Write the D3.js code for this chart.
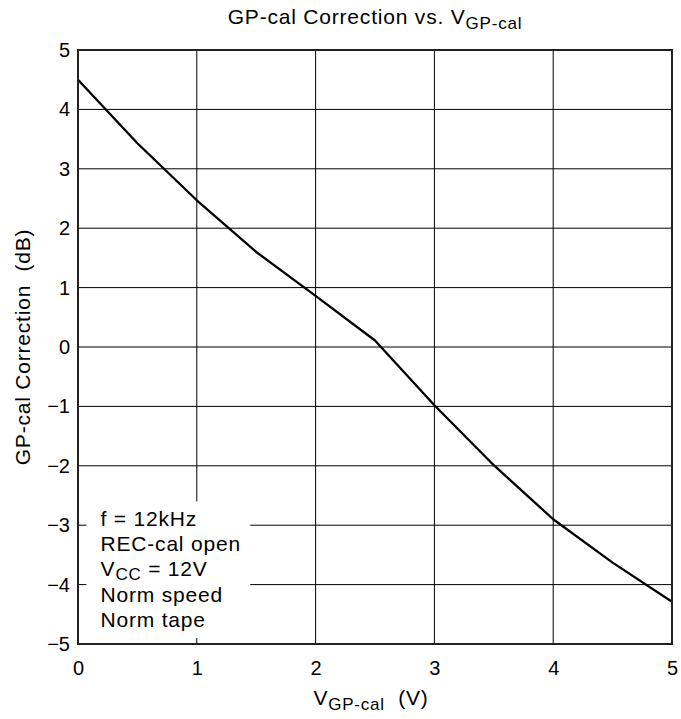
<!DOCTYPE html>
<html>
<head>
<meta charset="utf-8">
<script src="https://cdn.jsdelivr.net/npm/d3@7"></script>
<style>
  html, body { margin: 0; padding: 0; background: #fff; }
  svg { display: block; font-family: "Liberation Sans", Arial, Helvetica, sans-serif; }
</style>
</head>
<body>
<svg id="chart" width="681" height="719"></svg>
<script>
// Data
const vgpcal = [0, 0.5, 1, 1.5, 2, 2.5, 3, 3.5, 4, 4.5, 5];
const correction = [4.5, 3.43, 2.47, 1.6, 0.86, 0.11, -0.98, -1.99, -2.9, -3.63, -4.29];
const xTicks = [0, 1, 2, 3, 4, 5];
const yTicks = [5, 4, 3, 2, 1, 0, -1, -2, -3, -4, -5];
const conditions = ["f = 12kHz", "REC-cal open", "VCC", "Norm speed", "Norm tape"];

const svg = d3.select("#chart");
const m = { left: 78, top: 50, right: 672, bottom: 644 };

const x = d3.scaleLinear().domain([0, 5]).range([m.left, m.right]);
const y = d3.scaleLinear().domain([-5, 5]).range([m.bottom, m.top]);

const fmt = d => (d < 0 ? "\u2212" + Math.abs(d) : String(d));

// Grid
const g = svg.append("g");
g.selectAll(".vg").data(xTicks.slice(1, -1)).join("line")
  .attr("x1", d => x(d)).attr("x2", d => x(d))
  .attr("y1", m.top).attr("y2", m.bottom)
  .attr("stroke", "#000").attr("stroke-width", 1);
g.selectAll(".hg").data(yTicks.slice(1, -1)).join("line")
  .attr("x1", m.left).attr("x2", m.right)
  .attr("y1", d => y(d)).attr("y2", d => y(d))
  .attr("stroke", "#000").attr("stroke-width", 1);

// Axes (labels only) via d3 axes
const xAxis = d3.axisBottom(x).tickValues(xTicks).tickSize(0).tickPadding(17).tickFormat(fmt);
const yAxis = d3.axisLeft(y).tickValues(yTicks).tickSize(0).tickPadding(8).tickFormat(fmt);
const xa = svg.append("g").attr("transform", `translate(0,${m.bottom})`).call(xAxis);
const ya = svg.append("g").attr("transform", `translate(${m.left},0)`).call(yAxis);
[xa, ya].forEach(a => {
  a.select(".domain").remove();
  a.selectAll("text").attr("font-size", 20).attr("fill", "#000")
    .attr("font-family", "Liberation Sans, Arial, sans-serif");
});

// Condition box (white background masking the grid)
const bx0 = x(0.07), bx1 = x(1.45), by0 = y(-2.6), by1 = y(-4.9);
svg.append("rect").attr("x", bx0).attr("y", by0)
  .attr("width", bx1 - bx0).attr("height", by1 - by0).attr("fill", "#fff");

const lt = svg.append("g").attr("font-size", 21).attr("letter-spacing", 0.8).attr("fill", "#000");
conditions.forEach((c, i) => {
  const t = lt.append("text").attr("x", x(0.19)).attr("y", 525.5 + i * 25.4);
  if (c === "VCC") {
    t.append("tspan").text("V");
    t.append("tspan").attr("font-size", 17).attr("dy", 4).text("CC");
    t.append("tspan").attr("dy", -4).text(" = 12V");
  } else {
    t.text(c);
  }
});

// Curve
const line = d3.line().x((d, i) => x(vgpcal[i])).y(d => y(d));
svg.append("path").datum(correction)
  .attr("d", line).attr("fill", "none")
  .attr("stroke", "#000").attr("stroke-width", 2.3).attr("stroke-linejoin", "round");

// Frame
svg.append("rect").attr("x", m.left).attr("y", m.top)
  .attr("width", m.right - m.left).attr("height", m.bottom - m.top)
  .attr("fill", "none").attr("stroke", "#222").attr("stroke-width", 2);

// Title
const title = svg.append("text").attr("x", (m.left + m.right) / 2).attr("y", 24)
  .attr("text-anchor", "middle").attr("font-size", 21).attr("letter-spacing", 0.8).attr("fill", "#000");
title.append("tspan").text("GP-cal Correction vs. V");
title.append("tspan").attr("font-size", 17).attr("dy", 5).text("GP-cal");

// X axis label
const xl = svg.append("text").attr("x", (m.left + m.right) / 2 - 4).attr("y", 705)
  .attr("text-anchor", "middle").attr("font-size", 21).attr("letter-spacing", 0.8).attr("fill", "#000");
xl.append("tspan").text("V");
xl.append("tspan").attr("font-size", 17).attr("dy", 5).text("GP-cal");
xl.append("tspan").attr("dy", -5).text("\u00a0\u00a0(V)");

// Y axis label
svg.append("text")
  .attr("transform", `translate(30,${(m.top + m.bottom) / 2}) rotate(-90)`)
  .attr("text-anchor", "middle").attr("font-size", 21).attr("letter-spacing", 0.8).attr("fill", "#000")
  .text("GP-cal Correction \u00a0(dB)");
</script>
</body>
</html>
